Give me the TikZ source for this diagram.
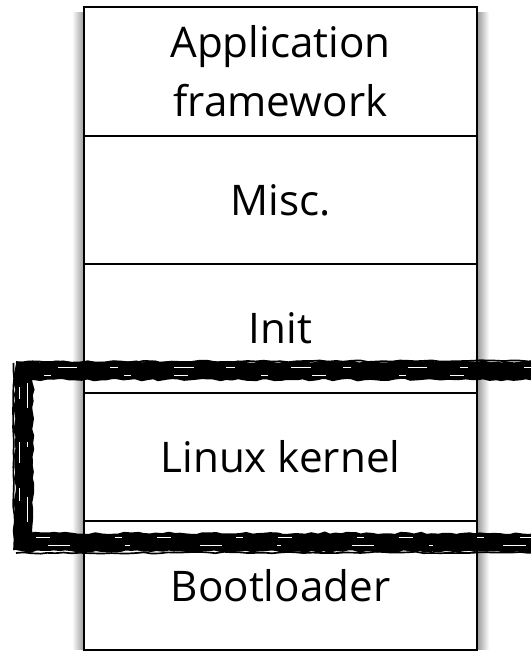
\documentclass[tikz,border=0pt]{standalone}
\usepackage{fontspec}
\setmainfont{Open Sans}
\usetikzlibrary{positioning,backgrounds,decorations.pathmorphing}
\tikzset{>=latex}
\tikzset{
	layer/.style={draw, line width=1.4pt, outer sep=0pt, inner sep=0pt, minimum width=9.825cm, minimum height=3.215cm, align=center, font=\fontsize{30}{42}\selectfont},
	brush/.style={line width=0.46cm, decorate, decoration={random steps, segment length=1.5mm, amplitude=0.8pt}},
	bristle/.style={line width=1.2pt, decorate, decoration={random steps, segment length=2mm, amplitude=0.6pt}},
	streak/.style={white, line width=0.4pt},
}

\begin{document}
\begin{tikzpicture}
		\useasboundingbox (0,0) rectangle (13.275,16.275);
		% the stack
		\node[layer, anchor=north] (app) at (7.0125,16.1) {Application\\framework};
		\node[layer, below=0pt of app] (misc) {Misc.};
		\node[layer, below=0pt of misc] (init) {Init};
		\node[layer, below=0pt of init] (kernel) {Linux kernel};
		\node[layer, below=0pt of kernel] (boot) {Bootloader};
		\begin{scope}[on background layer]
			\shade[left color=white, right color=black!40] ([xshift=-0.3cm, yshift=-0.15cm]app.north west) rectangle (boot.south west);
			\shade[left color=black!40, right color=white] ([yshift=-0.15cm]app.north east) rectangle ([xshift=0.3cm]boot.south east);
		\end{scope}
		% brush mark round the kernel
		\coordinate (tr) at ([yshift=0.55cm]kernel.north -| 13.6,0);
		\coordinate (tl) at ([yshift=0.55cm]kernel.north -| 0.6,0);
		\coordinate (bl) at ([yshift=-0.52cm]kernel.south -| 0.6,0);
		\coordinate (br) at ([yshift=-0.52cm]kernel.south -| 13.6,0);
		\draw[brush] (tr) -- (tl) -- (bl) -- (br);
		\draw[bristle] ([yshift=0.25cm]tr) -- ([yshift=0.22cm,xshift=-0.2cm]tl);
		\draw[bristle] ([xshift=-0.26cm,yshift=0.2cm]tl) -- ([xshift=-0.25cm,yshift=-0.2cm]bl);
		\draw[bristle] ([yshift=-0.27cm,xshift=-0.2cm]bl) -- ([yshift=-0.25cm]br);
		\draw[streak, dash pattern=on 14pt off 40pt on 6pt off 23pt] ([yshift=0.1cm]tr) -- ([yshift=0.1cm,xshift=0.4cm]tl);
		\draw[streak, dash pattern=on 5pt off 52pt on 10pt off 31pt] ([yshift=-0.12cm]tr) -- ([yshift=-0.12cm,xshift=0.5cm]tl);
		\draw[streak, dash pattern=on 18pt off 24pt on 4pt off 35pt] ([xshift=0.09cm,yshift=-0.3cm]tl) -- ([xshift=0.09cm,yshift=0.3cm]bl);
		\draw[streak, dash pattern=on 9pt off 30pt on 15pt off 18pt] ([xshift=-0.11cm,yshift=-0.4cm]tl) -- ([xshift=-0.11cm,yshift=0.3cm]bl);
		\draw[streak, dash pattern=on 10pt off 46pt on 5pt off 25pt] ([yshift=0.13cm,xshift=0.3cm]bl) -- ([yshift=0.13cm]br);
		\draw[streak, dash pattern=on 16pt off 39pt on 3pt off 50pt] ([yshift=-0.08cm,xshift=0.6cm]bl) -- ([yshift=-0.08cm]br);
	\end{tikzpicture}
\end{document}
